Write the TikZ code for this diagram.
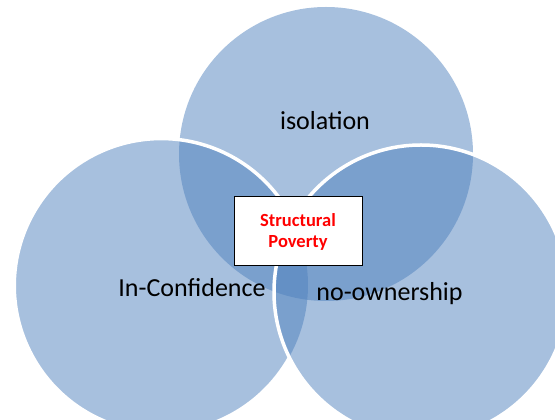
\documentclass[tikz,border=0pt]{standalone}
\usepackage{fontspec}
\setmainfont{Carlito}
\definecolor{vennblue}{RGB}{79,129,189}
\definecolor{polred}{RGB}{255,0,0}
\begin{document}
\begin{tikzpicture}[x=1pt,y=1pt,
  venn/.style={circle,minimum size=294pt,inner sep=0pt,outer sep=0pt,fill=vennblue,fill opacity=0.5,draw=none},
  rim/.style={draw=white,line width=3.5pt},
  lbl/.style={font=\fontsize{26}{30}\selectfont,text=black,anchor=base,inner sep=0pt},
  centerbox/.style={draw=black,line width=1pt,fill=white,minimum width=128pt,minimum height=69pt,inner sep=0pt,align=center,text=polred,font=\bfseries\fontsize{18.5}{21}\selectfont}]
\useasboundingbox (0,0) rectangle (555,420);
\clip (0,0) rectangle (555,420);
\node[venn] (top) at (326,266) {};
\node[venn] (left) at (161,135) {};
\node[venn] (right) at (421,128) {};
\draw[rim] (left.26.25) arc[start angle=26.25,end angle=330.7,radius=147pt];
\draw[rim] (right) circle[radius=147pt];
\node[lbl] (iso) at (325,290) {isolation};
\node[lbl] (conf) at (192,123) {In-Confidence};
\node[lbl] (own) at (389.5,119) {no-ownership};
\node[centerbox] (sp) at (298,188.5) {Structural\\Poverty};
\end{tikzpicture}
\end{document}
